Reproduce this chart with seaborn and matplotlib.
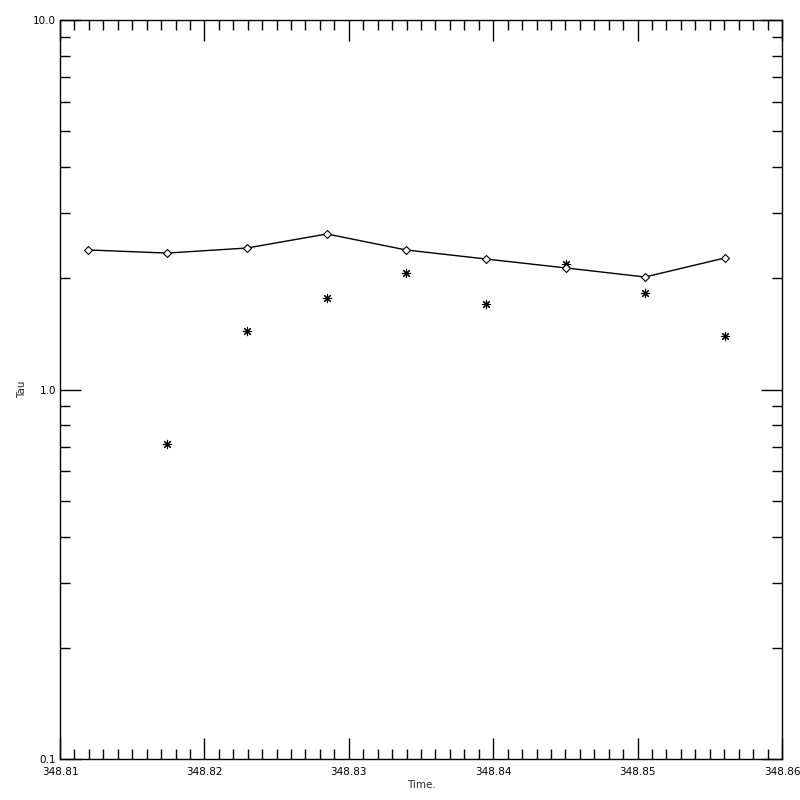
import numpy as np
import pandas as pd
import seaborn as sns
import matplotlib
matplotlib.use('agg')
import matplotlib.pyplot as plt
from matplotlib.ticker import FixedLocator, LogLocator, MultipleLocator, FuncFormatter

sns.set_style('white')
plt.rcParams['font.family'] = ['DejaVu Sans']

# fitted tau (line with diamonds)
time_fit = [348.81194, 348.81741, 348.82295, 348.82849, 348.83396,
            348.83950, 348.84504, 348.85051, 348.85605]
tau_fit = [2.386, 2.34, 2.415, 2.636, 2.386, 2.255, 2.133, 2.016, 2.27]

# measured tau (asterisks)
time_obs = [348.81741, 348.82295, 348.82849, 348.83396, 348.83950,
            348.84504, 348.85051, 348.85605]
tau_obs = [0.712, 1.44, 1.769, 2.067, 1.704, 2.186, 1.822, 1.393]

fit = pd.DataFrame({'time': time_fit, 'tau': tau_fit})
obs = pd.DataFrame({'time': time_obs, 'tau': tau_obs})

fig = plt.figure(figsize=(8, 8), dpi=100)
ax = fig.add_axes([0.075, 0.05125, 0.9025, 0.92375])

sns.lineplot(data=fit, x='time', y='tau', ax=ax, color='black', lw=1,
             marker='D', markersize=4, markerfacecolor='white',
             markeredgecolor='black', markeredgewidth=0.8)
sns.scatterplot(data=obs, x='time', y='tau', ax=ax, color='black',
                marker=(8, 2, 0), s=36, linewidth=0.8)

ax.set_yscale('log')
ax.set_xlim(348.81, 348.86)
ax.set_ylim(0.1, 10)

ax.xaxis.set_major_locator(MultipleLocator(0.01))
ax.xaxis.set_minor_locator(MultipleLocator(0.001))
ax.xaxis.set_major_formatter(FuncFormatter(lambda v, p: '%.2f' % v))
ax.yaxis.set_major_locator(FixedLocator([0.1, 1.0, 10.0]))
ax.yaxis.set_minor_locator(LogLocator(base=10, subs=np.arange(2, 10)))
ax.yaxis.set_major_formatter(FuncFormatter(lambda v, p: '%.1f' % v))
ax.yaxis.set_minor_formatter(FuncFormatter(lambda v, p: ''))

ax.tick_params(which='both', direction='in', top=True, right=True,
               bottom=True, left=True, labelsize=7.5, colors='black', width=1)
ax.tick_params(which='major', length=15)
ax.tick_params(which='minor', length=7)
ax.tick_params(axis='x', which='major', pad=6)
ax.tick_params(axis='y', which='major', pad=3)
for s in ax.spines.values():
    s.set_visible(True)
    s.set_color('black')
    s.set_linewidth(1)

ax.set_xlabel('Time.', fontsize=7.5, labelpad=2)
ax.set_ylabel('Tau', fontsize=7.5)
ax.yaxis.set_label_coords(-0.046, 0.5)

fig.savefig('out.png', dpi=100, facecolor='white')
